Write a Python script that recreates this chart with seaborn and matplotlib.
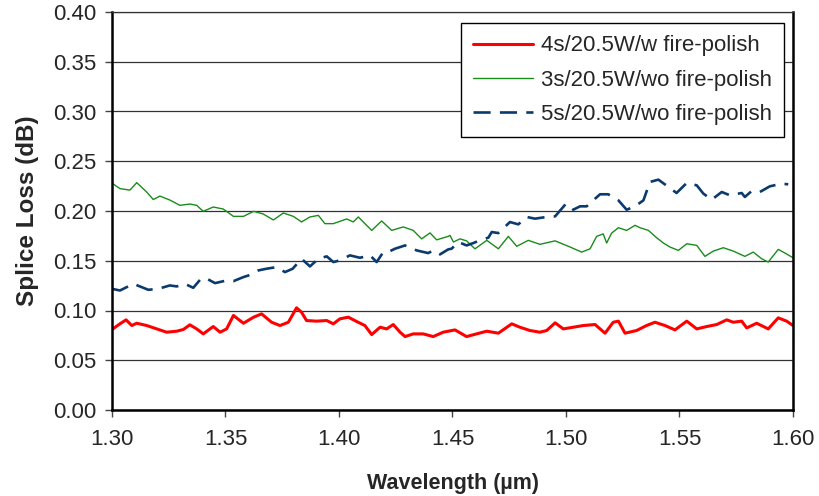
import matplotlib
matplotlib.use("Agg")
import matplotlib.pyplot as plt
import seaborn as sns
import pandas as pd
from matplotlib.ticker import FormatStrFormatter, MultipleLocator

# ---- data ----
red_x = [1.3000, 1.3035, 1.3062, 1.3087, 1.3109, 1.3153, 1.3197, 1.3241, 1.3285, 1.3314,
         1.3343, 1.3373, 1.3402, 1.3446, 1.3476, 1.3505, 1.3535, 1.3579, 1.3624, 1.3659,
         1.3703, 1.3740, 1.3777, 1.3813, 1.3835, 1.3857, 1.3901, 1.3946, 1.3975, 1.4004,
         1.4041, 1.4078, 1.4114, 1.4144, 1.4181, 1.4210, 1.4239, 1.4269, 1.4291, 1.4327,
         1.4371, 1.4415, 1.4459,
         1.4482, 1.4511, 1.4562, 1.4606, 1.4651, 1.4702, 1.4761, 1.4797, 1.4841, 1.4885,
         1.4915, 1.4952, 1.4988, 1.5032, 1.5076, 1.5128, 1.5172, 1.5208, 1.5231, 1.5260,
         1.5311, 1.5355, 1.5392, 1.5436, 1.5480, 1.5532, 1.5576, 1.5620, 1.5664, 1.5708,
         1.5737, 1.5774, 1.5796, 1.5840, 1.5891, 1.5935, 1.5972, 1.6000]
red_y = [0.0809, 0.0866, 0.0906, 0.0849, 0.0872, 0.0849, 0.0815, 0.0782, 0.0792, 0.0809,
         0.0856, 0.0815, 0.0765, 0.0839, 0.0782, 0.0815, 0.0950, 0.0872, 0.0933, 0.0966,
         0.0882, 0.0849, 0.0882, 0.1027, 0.0983, 0.0899, 0.0893, 0.0899, 0.0866, 0.0916,
         0.0933, 0.0889, 0.0849, 0.0758, 0.0832, 0.0815, 0.0859, 0.0782, 0.0738, 0.0765,
         0.0765, 0.0738, 0.0782,
         0.0792, 0.0805, 0.0738, 0.0765, 0.0792, 0.0772, 0.0866, 0.0832, 0.0799, 0.0782,
         0.0799, 0.0876, 0.0815, 0.0832, 0.0849, 0.0859, 0.0772, 0.0882, 0.0893, 0.0772,
         0.0799, 0.0849, 0.0882, 0.0849, 0.0805, 0.0893, 0.0815, 0.0839, 0.0859, 0.0906,
         0.0882, 0.0893, 0.0825, 0.0872, 0.0815, 0.0926, 0.0893, 0.0849]

green_x = [1.3000, 1.3035, 1.3079, 1.3109, 1.3153, 1.3182, 1.3211, 1.3255, 1.3299, 1.3343,
           1.3373, 1.3402, 1.3446, 1.3490, 1.3535, 1.3579, 1.3624, 1.3666, 1.3711, 1.3755,
           1.3799, 1.3835, 1.3872, 1.3909, 1.3938, 1.3975, 1.4034, 1.4063, 1.4085, 1.4144,
           1.4188, 1.4232, 1.4283, 1.4327, 1.4364, 1.4401, 1.4430, 1.4481,
           1.4489, 1.4504, 1.4533, 1.4562, 1.4599, 1.4651, 1.4702, 1.4746, 1.4783, 1.4834,
           1.4885, 1.4952, 1.5018, 1.5069, 1.5106, 1.5135, 1.5164, 1.5179, 1.5201, 1.5231,
           1.5267, 1.5304, 1.5326, 1.5363, 1.5399, 1.5429, 1.5458, 1.5495, 1.5532, 1.5576,
           1.5612, 1.5649, 1.5693, 1.5737, 1.5788, 1.5825, 1.5862, 1.5891, 1.5935, 1.5965,
           1.6000]
green_y = [0.2280, 0.2225, 0.2210, 0.2285, 0.2190, 0.2115, 0.2150, 0.2110, 0.2057, 0.2070,
           0.2057, 0.1997, 0.2040, 0.2020, 0.1946, 0.1946, 0.1997, 0.1970, 0.1910, 0.1980,
           0.1946, 0.1890, 0.1940, 0.1956, 0.1873, 0.1873, 0.1920, 0.1890, 0.1940, 0.1805,
           0.1900, 0.1805, 0.1840, 0.1805, 0.1720, 0.1780, 0.1710, 0.1745,
           0.1755, 0.1688, 0.1720, 0.1700, 0.1620, 0.1705, 0.1620, 0.1745, 0.1645, 0.1705,
           0.1665, 0.1700, 0.1638, 0.1587, 0.1620, 0.1745, 0.1770, 0.1678, 0.1778, 0.1832,
           0.1805, 0.1856, 0.1832, 0.1805, 0.1732, 0.1678, 0.1638, 0.1604, 0.1671, 0.1654,
           0.1544, 0.1597, 0.1631, 0.1597, 0.1544, 0.1587, 0.1520, 0.1487, 0.1614, 0.1577,
           0.1530]

blue_x = [1.3000, 1.3035, 1.3094, 1.3123, 1.3160, 1.3204, 1.3255, 1.3285, 1.3321, 1.3358,
          1.3388, 1.3410, 1.3454, 1.3505, 1.3535, 1.3579, 1.3601, 1.3645, 1.3681, 1.3725,
          1.3762, 1.3796, 1.3835, 1.3872, 1.3909, 1.3946, 1.3975, 1.4004, 1.4048, 1.4092,
          1.4137, 1.4166, 1.4195, 1.4225, 1.4247, 1.4291, 1.4342, 1.4393, 1.4415, 1.4445,
          1.4481,
          1.4496, 1.4526, 1.4562, 1.4592, 1.4621, 1.4658, 1.4673, 1.4702, 1.4753, 1.4790,
          1.4827, 1.4863, 1.4915, 1.4952, 1.4981, 1.5000, 1.5032, 1.5062, 1.5091, 1.5120,
          1.5150, 1.5186, 1.5231, 1.5267, 1.5304, 1.5341, 1.5370, 1.5407, 1.5451, 1.5487,
          1.5532, 1.5576, 1.5605, 1.5642, 1.5686, 1.5722, 1.5774, 1.5788, 1.5818, 1.5854,
          1.5898, 1.5950, 1.5979]
blue_y = [0.1218, 0.1201, 0.1268, 0.1242, 0.1208, 0.1218, 0.1252, 0.1242, 0.1268, 0.1228,
          0.1309, 0.1329, 0.1275, 0.1302, 0.1295, 0.1336, 0.1352, 0.1403, 0.1420, 0.1436,
          0.1386, 0.1420, 0.1520, 0.1443, 0.1520, 0.1544, 0.1487, 0.1504, 0.1554, 0.1530,
          0.1554, 0.1487, 0.1587, 0.1597, 0.1621, 0.1654, 0.1604, 0.1577, 0.1604, 0.1564,
          0.1614,
          0.1621, 0.1688, 0.1654, 0.1678, 0.1705, 0.1732, 0.1789, 0.1778, 0.1889, 0.1866,
          0.1940, 0.1923, 0.1940, 0.1946, 0.2023, 0.2074, 0.2013, 0.2047, 0.2047, 0.2107,
          0.2168, 0.2168, 0.2107, 0.2013, 0.2047, 0.2107, 0.2292, 0.2315, 0.2242, 0.2181,
          0.2282, 0.2258, 0.2175, 0.2114, 0.2191, 0.2158, 0.2181, 0.2141, 0.2201, 0.2191,
          0.2248, 0.2275, 0.2268]

labels = ["4s/20.5W/w fire-polish", "3s/20.5W/wo fire-polish", "5s/20.5W/wo fire-polish"]
x_ticks = [1.30, 1.35, 1.40, 1.45, 1.50, 1.55, 1.60]

# ---- style ----
sns.set_style("white")
plt.rcParams['font.family'] = ['Liberation Sans', 'DejaVu Sans']

fig = plt.figure(figsize=(8.19, 4.96), dpi=100)
ax = fig.add_axes([112/819, 1 - 410/496, 681/819, 398/496])

sns.lineplot(x=red_x, y=red_y, ax=ax, color="#FF0000", linewidth=2.2, label=labels[0])
sns.lineplot(x=green_x, y=green_y, ax=ax, color="#1A8C1A", linewidth=1.0, label=labels[1])
sns.lineplot(x=blue_x, y=blue_y, ax=ax, color="#0B3A6E", linewidth=1.9,
             linestyle=(0, (6.5, 3.5)), label=labels[2])

ax.set_xlim(1.30, 1.60)
ax.set_ylim(0.0, 0.40)
ax.set_xticks(x_ticks)
ax.yaxis.set_major_locator(MultipleLocator(0.05))
ax.xaxis.set_major_formatter(FormatStrFormatter('%.2f'))
ax.yaxis.set_major_formatter(FormatStrFormatter('%.2f'))

ax.yaxis.grid(True, color="#333333", linewidth=0.9)
ax.xaxis.grid(False)
ax.set_axisbelow(True)

for side in ["left", "bottom", "right"]:
    ax.spines[side].set_color("black")
    ax.spines[side].set_linewidth(1.8)
ax.spines["top"].set_color("#333333")
ax.spines["top"].set_linewidth(0.9)

ax.tick_params(axis="both", which="major", direction="out", length=5, width=1,
               color="#444444", labelsize=16, bottom=True, left=True)
ax.tick_params(axis="x", pad=9)
ax.tick_params(axis="y", pad=6)

ax.set_xlabel("Wavelength (µm)", fontsize=15.5, fontweight="bold", labelpad=16)
ax.set_ylabel("Splice Loss (dB)", fontsize=17.5, fontweight="bold", labelpad=10)

leg = ax.legend(loc="upper right", bbox_to_anchor=(0.987, 0.972), borderaxespad=0,
                fontsize=16, frameon=True, fancybox=False, edgecolor="black",
                handlelength=2.7, handletextpad=0.35, labelspacing=0.6, borderpad=0.55)
leg.get_frame().set_linewidth(1.0)
leg.get_frame().set_facecolor("white")
leg.get_frame().set_alpha(1)

fig.savefig("out.png", dpi=100)
